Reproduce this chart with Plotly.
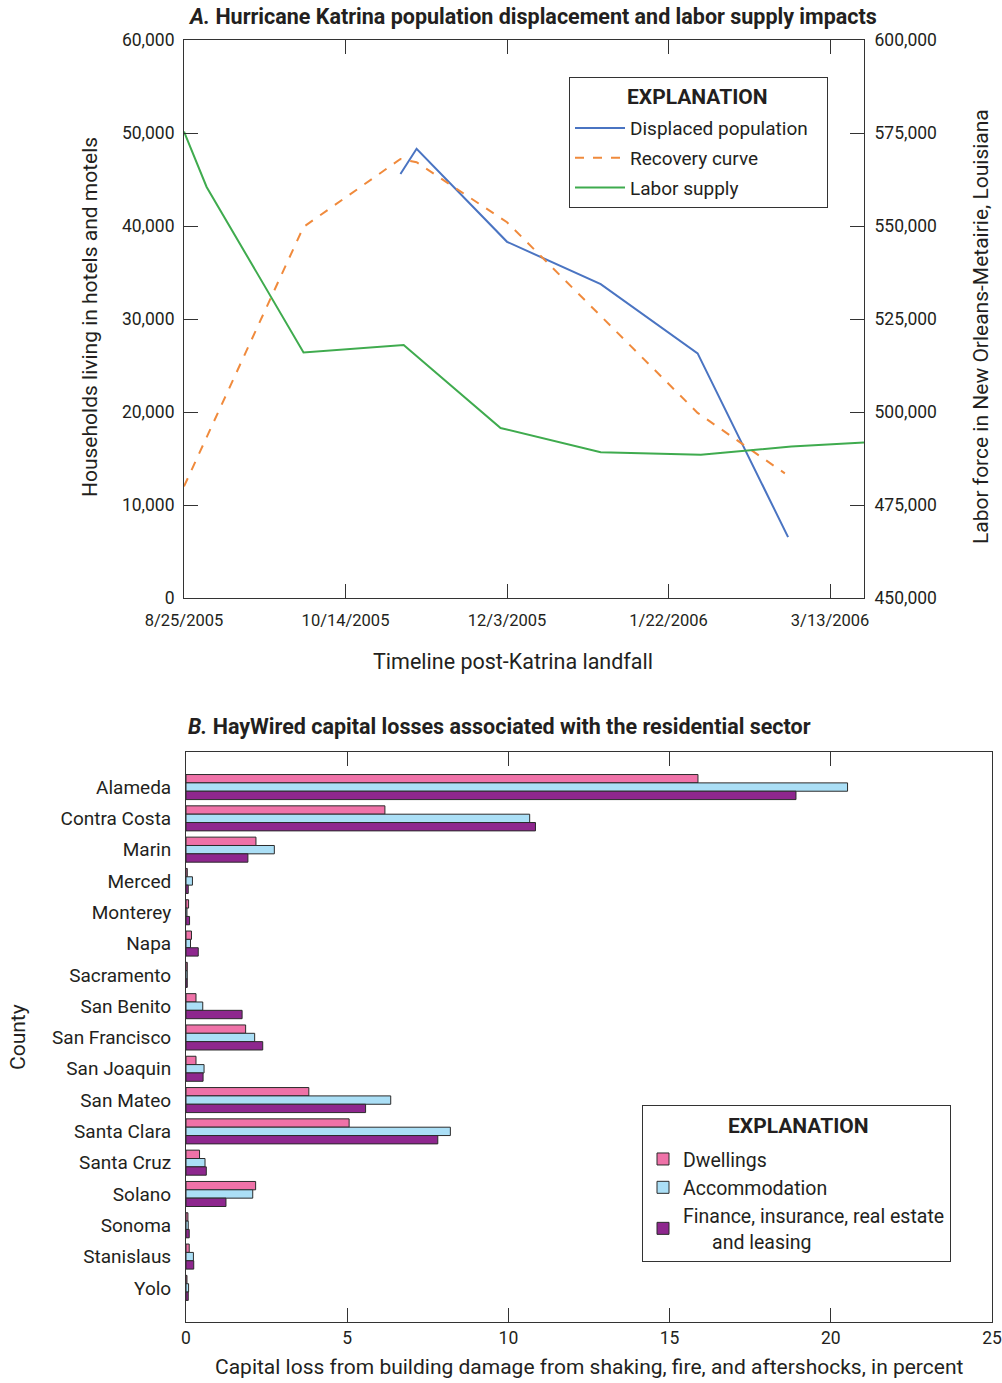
import plotly.graph_objects as go

# ---------------- Panel A data ----------------
disp_dates = ["2005-10-31", "2005-11-05", "2005-12-03", "2006-01-01", "2006-01-31", "2006-02-28"]
disp_values = [45600, 48300, 38300, 33750, 26300, 6550]

rec_dates = ["2005-08-25", "2005-10-01", "2005-10-31", "2005-11-05", "2005-12-03", "2006-01-01", "2006-01-31", "2006-02-27"]
rec_values = [12000, 39900, 47200, 46850, 40400, 30300, 19900, 13400]

labor_dates = ["2005-08-25", "2005-09-01", "2005-10-01", "2005-11-01", "2005-12-01", "2006-01-01", "2006-02-01", "2006-03-01", "2006-03-23 12:00"]
labor_values = [575400, 560500, 516000, 518000, 495700, 489200, 488500, 490700, 491800]

date_tickvals = ["2005-08-25", "2005-10-14", "2005-12-03", "2006-01-22", "2006-03-13"]
date_ticktext = ["8/25/2005", "10/14/2005", "12/3/2005", "1/22/2006", "3/13/2006"]

# ---------------- Panel B data ----------------
counties = ["Alameda", "Contra Costa", "Marin", "Merced", "Monterey", "Napa", "Sacramento",
            "San Benito", "San Francisco", "San Joaquin", "San Mateo", "Santa Clara",
            "Santa Cruz", "Solano", "Sonoma", "Stanislaus", "Yolo"]
dwellings = [15.88, 6.17, 2.17, 0.04, 0.08, 0.17, 0.04, 0.31, 1.85, 0.31, 3.81, 5.06, 0.42, 2.16, 0.06, 0.10, 0.03]
accommodation = [20.52, 10.66, 2.74, 0.20, 0.03, 0.14, 0.04, 0.52, 2.13, 0.56, 6.35, 8.20, 0.59, 2.07, 0.07, 0.23, 0.08]
finance = [18.92, 10.84, 1.92, 0.07, 0.11, 0.38, 0.04, 1.74, 2.38, 0.53, 5.57, 7.81, 0.63, 1.24, 0.10, 0.24, 0.07]

W, H = 1002, 1383
FONT = "Roboto, sans-serif"
TXT = "#231f20"
NB = "\u00a0"

def px(x):
    return x / W

def py(y):
    return 1 - y / H

fig = go.Figure()

fig.add_trace(go.Scatter(x=disp_dates, y=disp_values, mode="lines", name="Displaced population" + NB * 3,
                         legendgroup="a1", line=dict(color="#4a74c2", width=2), xaxis="x", yaxis="y", legend="legend"))
fig.add_trace(go.Scatter(x=rec_dates, y=rec_values, mode="lines", name="Recovery curve",
                         legendgroup="a2", line=dict(color="#f08a3c", width=2, dash="dash"), xaxis="x", yaxis="y", legend="legend"))
fig.add_trace(go.Scatter(x=labor_dates, y=labor_values, mode="lines", name="Labor supply",
                         legendgroup="a3", line=dict(color="#3fab4e", width=2), xaxis="x", yaxis="y2", legend="legend"))

bar_line = dict(color="#2b2b2b", width=1)
fig.add_trace(go.Bar(y=counties, x=dwellings, orientation="h", name="Dwellings", legendgroup="b1",
                     marker=dict(color="#ef72a8", line=bar_line), xaxis="x3", yaxis="y3", legend="legend2"))
fig.add_trace(go.Bar(y=counties, x=accommodation, orientation="h", name="Accommodation", legendgroup="b2",
                     marker=dict(color="#abdff6", line=bar_line), xaxis="x3", yaxis="y3", legend="legend2"))
fig.add_trace(go.Bar(y=counties, x=finance, orientation="h", legendgroup="b3",
                     name="Finance, insurance, real estate<br>" + NB * 6 + "and leasing",
                     marker=dict(color="#8e278e", line=bar_line), xaxis="x3", yaxis="y3", legend="legend2"))

axis_common = dict(showline=True, linecolor="#333", linewidth=1, ticks="inside", tickcolor="#333",
                   ticklen=14, showgrid=False, zeroline=False, automargin=False,
                   tickfont=dict(family=FONT, size=17.5, color=TXT))

fig.update_layout(
    width=W, height=H,
    margin=dict(l=0, r=0, t=0, b=0),
    paper_bgcolor="white", plot_bgcolor="white",
    font=dict(family=FONT, color=TXT, size=19),
    barmode="group", bargap=0.2, bargroupgap=0,
    xaxis=dict(axis_common, domain=[px(184), px(864)], anchor="y", type="date",
               range=["2005-08-25", "2006-03-23 12:00"], tickvals=date_tickvals, ticktext=date_ticktext,
               mirror="ticks", ticklabelstandoff=7, tickfont=dict(family=FONT, size=16.5, color=TXT)),
    yaxis=dict(axis_common, domain=[py(598), py(40)], anchor="x", range=[0, 60000],
               tickvals=[0, 10000, 20000, 30000, 40000, 50000, 60000], tickformat=",d",
               ticklabelstandoff=5),
    yaxis2=dict(axis_common, overlaying="y", side="right", anchor="x", range=[450000, 600000],
                tickvals=[450000, 475000, 500000, 525000, 550000, 575000, 600000], tickformat=",d",
                ticklabelstandoff=6),
    xaxis3=dict(axis_common, domain=[px(186), px(992)], anchor="y3", range=[0, 25],
                tickvals=[0, 5, 10, 15, 20, 25], mirror="ticks"),
    yaxis3=dict(axis_common, domain=[py(1322), py(752)], anchor="x3", type="category",
                categoryorder="array", categoryarray=counties,
                range=[17.09, -1.12], ticks="", mirror=True, ticklabelstandoff=10,
                tickfont=dict(family=FONT, size=19, color=TXT)),
    legend=dict(x=px(569), y=py(77), xanchor="left", yanchor="top",
                bordercolor="#333", borderwidth=1, bgcolor="white",
                font=dict(family=FONT, size=19, color=TXT), itemwidth=50,
                title=dict(text=NB, side="top", font=dict(family=FONT, size=24, color=TXT)),
                traceorder="grouped", tracegroupgap=2),
    legend2=dict(x=px(642), y=py(1105), xanchor="left", yanchor="top",
                 bordercolor="#333", borderwidth=1, bgcolor="white",
                 font=dict(family=FONT, size=19.5, color=TXT),
                 title=dict(text=NB, side="top", font=dict(family=FONT, size=26, color=TXT)),
                 traceorder="grouped", tracegroupgap=0),
    showlegend=True,
)

annotations = [
    dict(text="<b><i>A.</i> Hurricane Katrina population displacement and labor supply impacts</b>",
         x=px(186), y=py(16), xanchor="left", yanchor="middle", font=dict(size=21.5)),
    dict(text="Households living in hotels and motels", x=px(90), y=py(317), textangle=-90,
         xanchor="center", yanchor="middle", font=dict(size=21)),
    dict(text="Labor force in New Orleans-Metairie, Louisiana", x=px(981), y=py(327), textangle=-90,
         xanchor="center", yanchor="middle", font=dict(size=21)),
    dict(text="Timeline post-Katrina landfall", x=px(513), y=py(661), xanchor="center", yanchor="middle",
         font=dict(size=21.5)),
    dict(text="<b><i>B.</i> HayWired capital losses associated with the residential sector</b>",
         x=px(186), y=py(726), xanchor="left", yanchor="middle", font=dict(size=21.5)),
    dict(text="County", x=px(18), y=py(1037), textangle=-90, xanchor="center", yanchor="middle",
         font=dict(size=21)),
    dict(text="Capital loss from building damage from shaking, fire, and aftershocks, in percent",
         x=px(589), y=py(1367), xanchor="center", yanchor="middle", font=dict(size=21)),
    dict(text="<b>EXPLANATION</b>", x=px(697), y=py(97), xanchor="center", yanchor="middle",
         font=dict(size=21)),
    dict(text="<b>EXPLANATION</b>", x=px(798), y=py(1126), xanchor="center", yanchor="middle",
         font=dict(size=21)),
]
for a in annotations:
    a.update(xref="paper", yref="paper", showarrow=False)
fig.update_layout(annotations=annotations)

fig.write_html("out.html", config={"displayModeBar": False},
               post_script="document.body.style.margin='0px';")
